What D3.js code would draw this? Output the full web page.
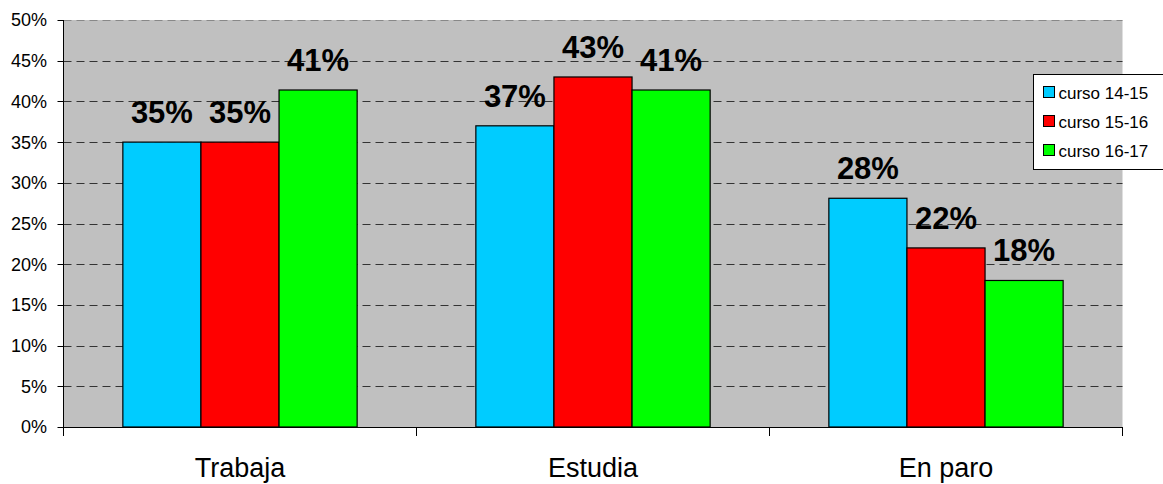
<!DOCTYPE html>
<html>
<head>
<meta charset="utf-8">
<script src="https://cdn.jsdelivr.net/npm/d3@7"></script>
<style>
  body { margin: 0; background: #fff; }
  svg { display: block; font-family: Arial, "Liberation Sans", sans-serif; }
</style>
</head>
<body>
<svg id="chart"></svg>
<script>
// chart data
var categories = ["Trabaja", "Estudia", "En paro"];
var seriesNames = ["curso 14-15", "curso 15-16", "curso 16-17"];
var seriesColors = ["#00ccff", "#ff0000", "#00ff00"];
var curso1415 = [0.35, 0.37, 0.281];
var curso1516 = [0.35, 0.43, 0.22];
var curso1617 = [0.414, 0.414, 0.18];
var yTicks = [0, 0.05, 0.1, 0.15, 0.2, 0.25, 0.3, 0.35, 0.4, 0.45, 0.5];

var w = 1163, h = 484;
var margin = { left: 63.5, right: 40.5, top: 20, bottom: 57 };
var pw = w - margin.left - margin.right;
var ph = h - margin.top - margin.bottom;

var svg = d3.select("#chart").attr("width", w).attr("height", h);

var x = d3.scaleBand().domain(categories).range([0, pw]);
var x1 = d3.scaleBand().domain(seriesNames)
  .range([0, x.bandwidth()]).paddingInner(0).paddingOuter(0.76);
var y = d3.scaleLinear().domain([0, 0.5]).range([ph, 0]);

var g = svg.append("g").attr("transform", "translate(" + margin.left + "," + margin.top + ")");

// plot background
g.append("rect")
  .attr("width", pw).attr("height", ph)
  .attr("fill", "#c0c0c0");

// dashed gridlines
g.selectAll(".grid")
  .data(yTicks.filter(d => d > 0))
  .enter().append("line")
  .attr("x1", 0).attr("x2", pw)
  .attr("y1", d => Math.round(y(d)) + 0.5)
  .attr("y2", d => Math.round(y(d)) + 0.5)
  .attr("stroke", d => d === 0.5 ? "#888" : "#333")
  .attr("stroke-width", 1)
  .attr("stroke-dasharray", "8,5");

// bars
var seriesData = [curso1415, curso1516, curso1617];
var rows = [];
categories.forEach(function (c, i) {
  seriesNames.forEach(function (s, j) {
    rows.push({ cat: c, series: s, value: seriesData[j][i], color: seriesColors[j] });
  });
});

var bars = g.selectAll(".bar")
  .data(rows)
  .enter().append("g")
  .attr("class", "bar");

bars.append("rect")
  .attr("x", d => x(d.cat) + x1(d.series))
  .attr("y", d => y(d.value))
  .attr("width", x1.bandwidth())
  .attr("height", d => ph - y(d.value))
  .attr("fill", d => d.color)
  .attr("stroke", "#000")
  .attr("stroke-width", 1.2);

bars.append("text")
  .attr("x", d => x(d.cat) + x1(d.series) + x1.bandwidth() / 2)
  .attr("y", d => y(d.value) - 19)
  .attr("text-anchor", "middle")
  .attr("font-size", 31)
  .attr("font-weight", "bold")
  .text(d => Math.round(d.value * 100) + "%");

// y axis
g.append("line")
  .attr("x1", 0).attr("x2", 0)
  .attr("y1", 0).attr("y2", ph + 9)
  .attr("stroke", "#000");

g.selectAll(".ytick")
  .data(yTicks)
  .enter().append("line")
  .attr("x1", -6).attr("x2", 0)
  .attr("y1", d => Math.round(y(d)) + 0.5)
  .attr("y2", d => Math.round(y(d)) + 0.5)
  .attr("stroke", "#000");

g.selectAll(".ylabel")
  .data(yTicks)
  .enter().append("text")
  .attr("x", -16.5)
  .attr("y", d => y(d))
  .attr("dy", "0.36em")
  .attr("text-anchor", "end")
  .attr("font-size", 18)
  .text(d => Math.round(d * 100) + "%");

// x axis
g.append("line")
  .attr("x1", 0).attr("x2", pw)
  .attr("y1", ph + 0.5).attr("y2", ph + 0.5)
  .attr("stroke", "#000");

var bounds = categories.map(c => x(c)).concat([pw]);
g.selectAll(".xtick")
  .data(bounds)
  .enter().append("line")
  .attr("x1", d => d).attr("x2", d => d)
  .attr("y1", ph).attr("y2", ph + 9)
  .attr("stroke", "#000");

g.selectAll(".xlabel")
  .data(categories)
  .enter().append("text")
  .attr("x", d => x(d) + x.bandwidth() / 2)
  .attr("y", ph + 50)
  .attr("text-anchor", "middle")
  .attr("font-size", 27)
  .text(d => d);

// legend
var legend = svg.append("g").attr("transform", "translate(1033.5,74.5)");
legend.append("rect")
  .attr("width", 140).attr("height", 95)
  .attr("fill", "#fff")
  .attr("stroke", "#000");

var li = legend.selectAll(".li")
  .data(seriesNames)
  .enter().append("g")
  .attr("transform", (d, i) => "translate(10," + (18 + i * 29) + ")");

li.append("rect")
  .attr("x", 0).attr("y", -6)
  .attr("width", 11).attr("height", 11)
  .attr("fill", (d, i) => seriesColors[i])
  .attr("stroke", "#000");

li.append("text")
  .attr("x", 15)
  .attr("y", 0)
  .attr("dy", "0.36em")
  .attr("font-size", 17)
  .text(d => d);
</script>
</body>
</html>
